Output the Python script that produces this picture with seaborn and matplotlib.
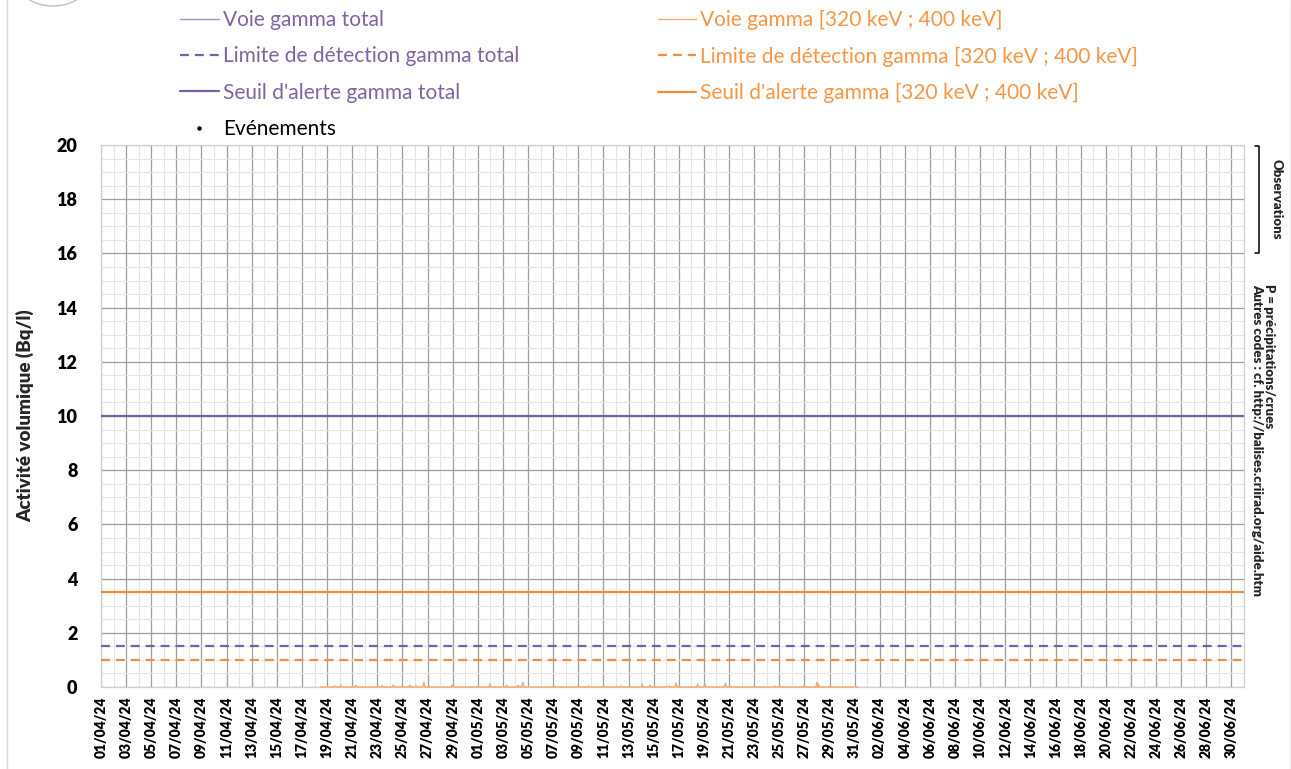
import matplotlib
matplotlib.use("Agg")
import matplotlib.pyplot as plt
import matplotlib.dates as mdates
from matplotlib.lines import Line2D
from matplotlib.patches import Ellipse
import numpy as np
import pandas as pd
import seaborn as sns

# ---- data -------------------------------------------------------------
period_start = "2024-04-01"
period_end = "2024-07-01"

# gamma [320 keV ; 400 keV] channel: measured span and short peaks (Bq/l)
window_320_start = "2024-04-18 12:00"
window_320_end = "2024-05-31 07:00"
peak_times = [
    "2024-04-19 15:00", "2024-04-20 02:00", "2024-04-21 07:00", "2024-04-23 09:00",
    "2024-04-24 06:00", "2024-04-25 14:00", "2024-04-26 02:00", "2024-04-26 17:00",
    "2024-04-28 23:00", "2024-05-01 23:00", "2024-05-03 07:00", "2024-05-04 05:00",
    "2024-05-04 14:00", "2024-05-09 20:00", "2024-05-12 10:00", "2024-05-14 02:00",
    "2024-05-14 17:00", "2024-05-16 05:00", "2024-05-16 19:00", "2024-05-18 12:00",
    "2024-05-19 02:00", "2024-05-20 17:00", "2024-05-24 16:00", "2024-05-26 22:00",
    "2024-05-28 00:00", "2024-05-28 03:00",
]
peak_values = [
    0.04, 0.07, 0.07, 0.04,
    0.07, 0.07, 0.04, 0.18,
    0.07, 0.11, 0.07, 0.07,
    0.18, 0.04, 0.04, 0.11,
    0.07, 0.04, 0.15, 0.11,
    0.11, 0.15, 0.04, 0.04,
    0.18, 0.11,
]

# reference levels (Bq/l)
alert_total = 10.0
alert_320 = 3.5
detection_total = 1.5
detection_320 = 1.0

y_max = 20

# ---- series -----------------------------------------------------------
t_peaks = pd.to_datetime(peak_times)
rows = [(pd.Timestamp(window_320_start), 0.0)]
for t, v in zip(t_peaks, peak_values):
    rows += [(t - pd.Timedelta(hours=2), 0.0), (t, v), (t + pd.Timedelta(hours=2), 0.0)]
rows.append((pd.Timestamp(window_320_end), 0.0))
df320 = pd.DataFrame(rows, columns=["date", "activite"]).sort_values("date")

# ---- style ------------------------------------------------------------
sns.set_theme(style="white")
plt.rcParams["font.family"] = ["Lato", "DejaVu Sans"]

purple = "#8064A2"
purple_line = "#7B5EA7"
purple_thin = "#A18DC2"
orange = "#F79646"
orange_line = "#F68B3C"
orange_thin = "#F9AA70"

W, H = 1291, 769
fig = plt.figure(figsize=(W / 100, H / 100), dpi=100)
ax = fig.add_axes([101 / W, 1 - 687 / H, (1244 - 101) / W, (687 - 145) / H])

x0, x1 = pd.Timestamp(period_start), pd.Timestamp(period_end)
ax.set_xlim(x0, x1)
ax.set_ylim(0, y_max)

# grid
ax.set_axisbelow(True)
major_days = pd.date_range(period_start, "2024-06-30", freq="2D")
ax.set_xticks(major_days)
ax.set_xticks(pd.date_range(period_start, period_end, freq="1D"), minor=True)
ax.xaxis.set_major_formatter(mdates.DateFormatter("%d/%m/%y"))
ax.set_yticks(np.arange(0, y_max + 1, 2))
ax.set_yticks(np.arange(0, y_max + 0.1, 0.5), minor=True)
ax.grid(which="minor", color="#E4E4E4", linewidth=0.8)
ax.grid(which="major", color="#9E9E9E", linewidth=0.9)
for s in ax.spines.values():
    s.set_color("#D0D0D0")
    s.set_linewidth(0.9)
    s.set_zorder(1.5)

# reference levels
dash = (4.0, 2.7)
ax.axhline(alert_total, color=purple_line, lw=1.6, zorder=3)
ax.axhline(alert_320, color=orange_line, lw=1.6, zorder=3)
ax.axhline(detection_total, color=purple_line, lw=1.6, ls=(0, dash), zorder=3)
ax.axhline(detection_320, color=orange_line, lw=1.6, ls=(0, dash), zorder=3)

# gamma [320 keV ; 400 keV] measurements
sns.lineplot(data=df320, x="date", y="activite", ax=ax, color=orange_thin,
             lw=1.0, legend=False, zorder=4, clip_on=False)

ax.tick_params(which="both", length=0)
ax.tick_params(axis="y", labelsize=13, pad=17)
ax.tick_params(axis="x", labelsize=10, pad=7, rotation=90)
for lab in ax.get_yticklabels() + ax.get_xticklabels():
    lab.set_fontweight("heavy")
    lab.set_color("#000000")
ax.set_xlabel("")
ax.set_ylabel("Activité volumique (Bq/l)", fontsize=13.5, fontweight="heavy",
              labelpad=16)

# legend
handles = [
    Line2D([], [], color=purple_thin, lw=1.0),
    Line2D([], [], color=purple_line, lw=1.6, ls=(0, dash)),
    Line2D([], [], color=purple_line, lw=1.6),
    Line2D([], [], color="black", ls="none", marker="o", markersize=2.2),
    Line2D([], [], color=orange_thin, lw=1.0),
    Line2D([], [], color=orange_line, lw=1.6, ls=(0, dash)),
    Line2D([], [], color=orange_line, lw=1.6),
]
labels = [
    "Voie gamma total",
    "Limite de détection gamma total",
    "Seuil d'alerte gamma total",
    "Evénements",
    "Voie gamma [320 keV ; 400 keV]",
    "Limite de détection gamma [320 keV ; 400 keV]",
    "Seuil d'alerte gamma [320 keV ; 400 keV]",
]
leg = fig.legend(handles, labels, ncol=2, loc="upper left",
                 bbox_to_anchor=(180 / W, 1 - 10 / H), frameon=False,
                 fontsize=15, handlelength=1.85, handletextpad=0.2,
                 labelspacing=0.78, columnspacing=6.65, borderpad=0,
                 borderaxespad=0)
text_colors = [purple, purple, purple, "black", orange, orange, orange]
for t, c in zip(leg.get_texts(), text_colors):
    t.set_color(c)

# side notes
fig.text(1277 / W, 1 - 199 / H, "Observations", rotation=270, fontsize=9.5,
         fontweight="heavy", ha="center", va="center")
fig.text(1269 / W, 1 - 284 / H, "P = précipitations/crues", rotation=270,
         fontsize=9.5, fontweight="heavy", ha="center", va="top")
fig.text(1257 / W, 1 - 284 / H,
         "Autres codes : cf. http://balises.criirad.org/aide.htm",
         rotation=270, fontsize=9.5, fontweight="heavy", ha="center", va="top")
bx = np.array([1255, 1259, 1259, 1255]) / W
by = 1 - np.array([146, 146, 253, 253]) / H
fig.add_artist(Line2D(bx, by, color="black", lw=1.1, transform=fig.transFigure))

# frame and corner ornament
fig.add_artist(Line2D([7 / W, 7 / W], [0, 1], color="#D9D9D9", lw=1.0,
                      transform=fig.transFigure))
fig.add_artist(Line2D([1290 / W, 1290 / W], [0, 1], color="#EDEDED", lw=1.0,
                      transform=fig.transFigure))
fig.add_artist(Ellipse((53 / W, 1 + 12 / H), 62 / W, 36 / H, fill=False,
                       edgecolor="#BFBFBF", lw=1.0, transform=fig.transFigure))

fig.savefig("out.png", dpi=100)
